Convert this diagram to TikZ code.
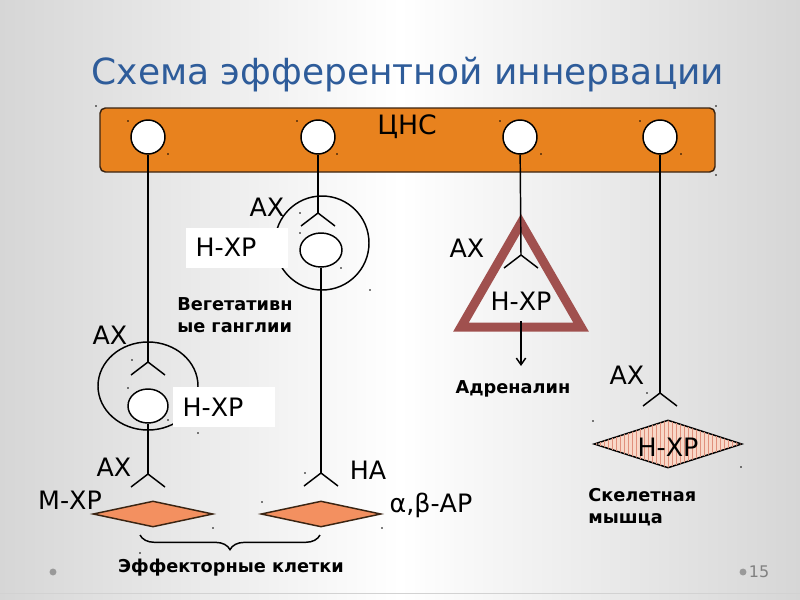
\documentclass[tikz,border=0pt]{standalone}
\usepackage{fontspec}
\setmainfont{DejaVu Sans}
\usetikzlibrary{shapes.geometric,arrows.meta,decorations.pathreplacing,patterns}
\definecolor{titleblue}{HTML}{2E5C9A}
\definecolor{cnsorange}{HTML}{E8821E}
\definecolor{cnsedge}{HTML}{3A2412}
\definecolor{effect}{HTML}{F39060}
\definecolor{tricol}{HTML}{A0504E}
\definecolor{musclefill}{HTML}{F8D8C8}
\definecolor{musclestripe}{HTML}{E0907C}
\definecolor{bggray}{HTML}{D6D6D6}
\newcommand\forkat[1]{\draw[wire] (#1) -- ++(-17,13) (#1) -- ++(17,13);}
\begin{document}
\begin{tikzpicture}[x=0.75pt,y=-0.75pt,
  wire/.style={line width=1.1pt},
  neuron/.style={circle, draw, fill=white, line width=1.1pt, minimum size=25.5pt, inner sep=0pt},
  gneuron/.style={ellipse, draw, fill=white, line width=1.1pt, inner sep=0pt},
  ganglion/.style={ellipse, draw, line width=1.1pt, inner sep=0pt},
  lab/.style={font=\fontsize{19}{22}\selectfont, inner sep=0pt},
  blab/.style={font=\fontsize{13.3}{16}\selectfont\bfseries, inner sep=0pt, align=left},
  effector/.style={diamond, draw=cnsedge, fill=effect, line width=1.1pt, inner sep=0pt, minimum width=90pt, minimum height=19.5pt},
  hbox/.style={fill=white, inner xsep=7pt, inner ysep=0pt, minimum height=30pt, text width=62.5pt, align=left, font=\fontsize{19}{22}\selectfont},
  tinydot/.style={fill=black}
]
% background
\shade[left color=bggray, right color=bggray, middle color=white] (0,0) rectangle (800,600);
\useasboundingbox (0,0) rectangle (800,600);
\draw[gray!35, line width=0.6pt] (0,593) -- (800,593);

% title
\node[font=\fontsize{27}{32}\selectfont, text=titleblue, inner sep=0pt] (title) at (408,75) {Схема эфферентной иннервации};

% CNS bar
\node[draw=cnsedge, fill=cnsorange, rounded corners=4pt, line width=1.1pt, minimum width=461.25pt, minimum height=48pt, inner sep=0pt] (cns) at (407.5,140) {};
\node[lab, font=\fontsize{20}{24}\selectfont] (cnslab) at (407,127) {ЦНС};
\node[neuron] (c1) at (148,137) {};
\node[neuron] (c2) at (318,137) {};
\node[neuron] (c3) at (520,137) {};
\node[neuron] (c4) at (660,137) {};

% column 1
\node[ganglion, minimum width=75pt, minimum height=66pt] (g1) at (148,386) {};
\coordinate (f1) at (148,362);
\coordinate (f2) at (148,474);
\draw[wire] (c1) -- (f1); \forkat{f1}
\node[gneuron, minimum width=30pt, minimum height=25.5pt] (n1) at (148,406) {};
\node[hbox, anchor=west] (h1) at (173,407) {Н-ХР};
\draw[wire] (n1) -- (f2); \forkat{f2}
\node[effector] (d1) at (153,514) {};
\node[lab] (ax1) at (110,335) {АХ};
\node[lab] (ax2) at (114,467) {АХ};
\node[lab] (mxr) at (70,500) {М-ХР};

% column 2
\node[ganglion, minimum width=70.5pt, minimum height=70.5pt] (g2) at (322,243) {};
\coordinate (f3) at (318,213);
\coordinate (f4) at (321,473);
\draw[wire] (c2) -- (f3); \forkat{f3}
\node[gneuron, minimum width=31.5pt, minimum height=25.5pt] (n2) at (321,250) {};
\node[hbox, anchor=west] (h2) at (186,247.5) {Н-ХР};
\draw[wire] (n2) -- (f4); \forkat{f4}
\node[effector] (d2) at (321,514) {};
\node[lab] (ax3) at (267,207) {АХ};
\node[lab] (na) at (368,470) {НА};
\node[lab] (abar) at (431,505) {α,β-АР};
\node[blab, anchor=west] (veg) at (177,315) {Вегетативн\\ые ганглии};

% brace
\coordinate (brL) at (140,535);
\coordinate (brR) at (320,535);
\draw[wire, decorate, decoration={brace, amplitude=11pt}] (brR) -- (brL);
\node[blab] (eff) at (231,568) {Эффекторные клетки};

% column 3
\draw[tricol, line width=6.75pt, line join=miter] (521,223) -- (461,327) -- (581,327) -- cycle;
\coordinate (f5) at (521,255);
\draw[wire] (c3) -- (f5); \forkat{f5}
\node[lab] (h3) at (521,301) {Н-ХР};
\coordinate (a0) at (521,321);
\coordinate (a1) at (521,366);
\draw[wire, -{Straight Barb[length=5pt,width=7pt]}] (a0) -- (a1);
\node[lab] (ax4) at (467,248) {АХ};
\node[blab] (adr) at (513,389) {Адреналин};

% column 4
\coordinate (f6) at (660,393);
\draw[wire] (c4) -- (f6); \forkat{f6}
\node[diamond, draw=black, line width=1.1pt, inner sep=0pt, minimum width=111pt, minimum height=36pt, fill=musclefill, postaction={pattern=vertical lines, pattern color=musclestripe}] (d3) at (668,444) {};
\node[lab] (h4) at (668,447) {Н-ХР};
\node[lab] (ax5) at (627,375) {АХ};
\node[blab, anchor=west] (skel) at (588,507) {Скелетная\\мышца};

% footer
\fill[gray!80] (53,572) circle[radius=2.6pt];
\fill[gray!80] (743,572) circle[radius=2.6pt];
\node[text=gray, font=\fontsize{12}{14}\selectfont, inner sep=0pt] (pg) at (759,572) {15};

% small selection dots
\foreach \x/\y in {96/106, 716/106, 716/175, 128/121, 168/154, 297/121, 337/154, 500/121, 541/154, 640/121, 681/154,
  300/213, 300/233, 341/268, 370/290, 132/360, 128/388, 168/420, 198/433, 213/528, 262/502, 140/553,
  305/473, 382/528, 647/393, 593/421, 741/467}
  \fill[tinydot] (\x,\y) circle[radius=0.7pt];
\end{tikzpicture}
\end{document}
